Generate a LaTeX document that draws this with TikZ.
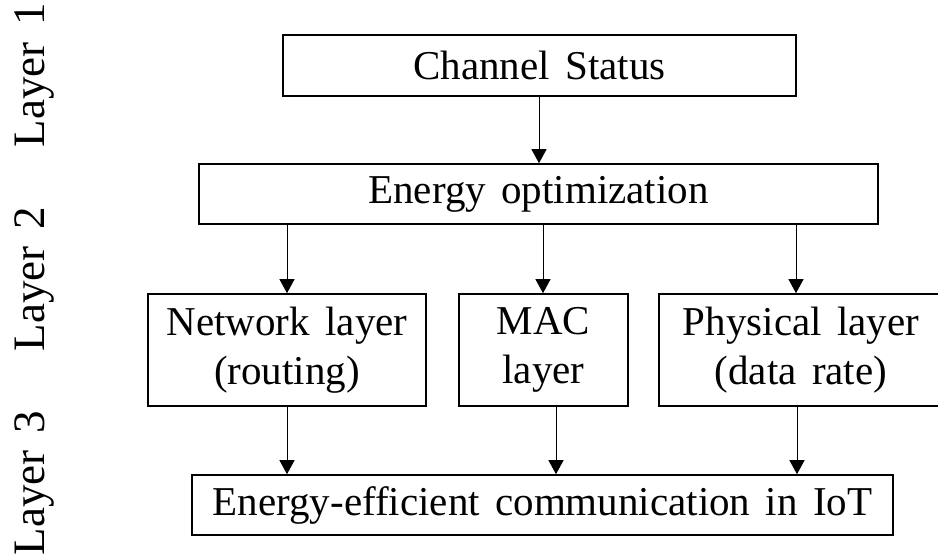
\documentclass[tikz,border=0pt]{standalone}
\usepackage{fontspec}
\setmainfont[WordSpace=1.5]{Liberation Serif}
\usetikzlibrary{arrows.meta}
\begin{document}
\begin{tikzpicture}[x=1pt,y=1pt,
  box/.style={draw, line width=1.6pt, inner sep=0pt, align=center,
    font=\fontsize{41}{49}\selectfont},
  arr/.style={line width=1pt, -{Triangle[width=15pt,length=14pt]}},
  layerlbl/.style={rotate=90, anchor=base, inner sep=0pt, font=\fontsize{45}{54}\selectfont}]
\useasboundingbox (0,0) rectangle (938,557);
% boxes (y = 557 - pixel y)
\node[box, minimum width=513pt, minimum height=61pt] (cs) at (539.5,491.5) {Channel Status};
\node[box, minimum width=679pt, minimum height=60pt] (eo) at (538.5,363) {Energy optimization};
\node[box, minimum width=278pt, minimum height=112pt] (nl) at (287,207) {Network layer\\(routing)};
\node[box, minimum width=169pt, minimum height=112pt] (mac) at (543.5,207) {MAC\\layer};
\node[box, minimum width=284pt, minimum height=112pt] (pl) at (801,207) {Physical layer\\(data rate)};
\node[box, minimum width=701pt, minimum height=60pt] (bot) at (542.5,52) {Energy-efficient communication in IoT};
% layer labels
\node[layerlbl] (l1) at (45,482) {Layer 1};
\node[layerlbl] (l2) at (45,278) {Layer 2};
\node[layerlbl] (l3) at (45,74) {Layer 3};
% connectors
\draw[arr] (cs.south -| 539,0) -- (eo.north -| 539,0);
\draw[arr] (eo.south -| nl.north) -- (nl.north);
\draw[arr] (eo.south -| 543,0) -- (mac.north -| 543,0);
\draw[arr] (eo.south -| 796,0) -- (pl.north -| 796,0);
\draw[arr] (nl.south) -- (bot.north -| nl.south);
\draw[arr] (mac.south -| 556,0) -- (bot.north -| 556,0);
\draw[arr] (pl.south -| 797,0) -- (bot.north -| 797,0);
\end{tikzpicture}
\end{document}
